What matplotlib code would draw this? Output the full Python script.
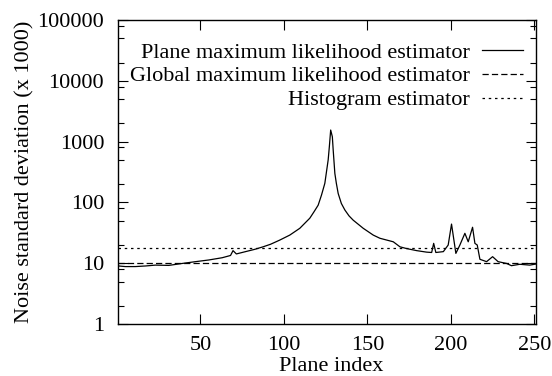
import numpy as np
import matplotlib
matplotlib.use("Agg")
import matplotlib.pyplot as plt
from matplotlib.ticker import FixedLocator, LogLocator, NullFormatter

# Noise estimate per plane (x 1000)
plane = [1, 5, 11, 17, 23, 31, 39, 47, 55, 63, 68, 69.5, 71.5, 77, 82.5,
         87.5, 92, 97.5, 103.5, 109.5, 115.5, 118, 120.5, 122.5, 124.5,
         126.5, 127.2, 128, 129, 129.5, 130.5, 131.4, 132.5, 134.4, 136.5,
         139, 141.5, 147.5, 153.5, 157.5, 165.5, 169.5, 173.5, 179.5, 185.5,
         188.5, 189.7, 191, 195.5, 198.4, 200.4, 203, 205.4, 208.4, 210.4,
         213, 214.4, 215.8, 217.4, 221.4, 225, 228.3, 233.4, 236.3, 241.3,
         247.3, 251]
sigma_plane = [9.0, 8.8, 8.8, 9.0, 9.3, 9.2, 9.9, 10.6, 11.3, 12.3, 13.4,
               16.1, 14.2, 15.5, 16.9, 18.6, 20.5, 24.0, 29, 37.5, 55, 70,
               90, 132, 206, 500, 824, 1550, 1200, 730, 300, 206, 140, 96, 75,
               60, 51, 37.5, 29, 25.7, 22.5, 18.6, 17.4, 16.1, 15.2, 15.0,
               21.2, 15.0, 15.5, 19.9, 44, 14.5, 19.9, 31, 22.5, 39, 21.2,
               19.9, 11.6, 10.6, 12.8, 10.6, 9.9, 9.1, 9.6, 9.3, 9.7]
sigma_global = 10.2
sigma_hist = 17.6

plt.rcParams['font.family'] = ['Liberation Serif', 'DejaVu Serif']
plt.rcParams['font.size'] = 16

fig = plt.figure(figsize=(5.52, 3.76), dpi=100)
ax = fig.add_axes([0.2138, 0.1383, 0.7572, 0.8085])

ax.plot(plane, sigma_plane, color='black', linewidth=0.9,
        label='Plane maximum likelihood estimator')
ax.axhline(sigma_global, color='black', linewidth=0.9, dashes=(5, 2.5),
           label='Global maximum likelihood estimator')
ax.axhline(sigma_hist, color='black', linewidth=0.9, dashes=(2, 3),
           label='Histogram estimator')

ax.set_yscale('log')
ax.set_ylim(1, 100000)
ax.set_xlim(0.6, 251)
ax.xaxis.set_major_locator(FixedLocator([50, 100, 150, 200, 250]))
ax.yaxis.set_major_locator(FixedLocator([1, 10, 100, 1000, 10000, 100000]))
ax.set_yticklabels(['1', '10', '100', '1000', '10000', '100000'])
ax.yaxis.set_minor_locator(LogLocator(base=10, subs=(2, 5, 8)))
ax.yaxis.set_minor_formatter(NullFormatter())
ax.tick_params(which='both', direction='in', top=True, right=True)
ax.tick_params(which='major', length=7, width=0.8)
ax.tick_params(which='minor', length=4, width=0.8)
ax.tick_params(axis='x', pad=9)
ax.tick_params(axis='y', pad=10)
for s in ax.spines.values():
    s.set_linewidth(1.0)

ax.set_xlabel('Plane index')
ax.set_ylabel('Noise standard deviation (x 1000)')
ax.xaxis.set_label_coords(0.51, -0.108)
ax.yaxis.set_label_coords(-0.2, 0.5)

ax.legend(loc='upper right', bbox_to_anchor=(523 / 552, 1 - 42 / 376),
          bbox_transform=fig.transFigure, frameon=False, markerfirst=False,
          handlelength=1.85, handletextpad=0.55, labelspacing=0.15,
          borderpad=0, borderaxespad=0)

fig.savefig('out.png', dpi=100)
